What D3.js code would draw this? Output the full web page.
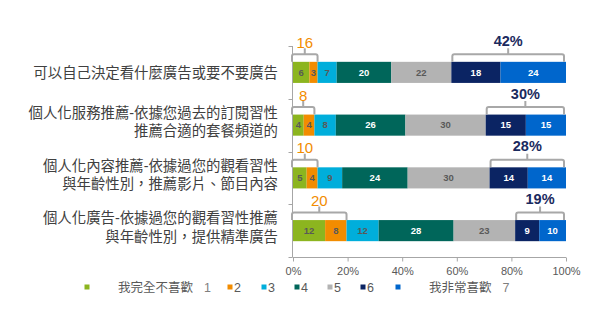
<!DOCTYPE html>
<html>
<head>
<meta charset="utf-8">
<script src="https://cdn.jsdelivr.net/npm/d3@7"></script>
<style>
  html, body { margin: 0; padding: 0; background: #fff; }
  svg { display: block; }
</style>
</head>
<body>
<svg id="chart" width="600" height="323"></svg>
<script>
// Survey items (rows, top to bottom); "\n" splits a label into lines
const categories = [
  "可以自己決定看什麼廣告或要不要廣告",
  "個人化服務推薦-依據您過去的訂閱習性\n推薦合適的套餐頻道的",
  "個人化內容推薦-依據過您的觀看習性\n與年齡性別，推薦影片、節目內容",
  "個人化廣告-依據過您的觀看習性推薦\n與年齡性別，提供精準廣告"
];

// Rating levels 1..7 and the share of answers per row
const levels = ["1", "2", "3", "4", "5", "6", "7"];
const level1 = [6, 4, 5, 12];
const level2 = [3, 4, 4, 8];
const level3 = [7, 8, 9, 12];
const level4 = [20, 26, 24, 28];
const level5 = [22, 30, 30, 23];
const level6 = [18, 15, 14, 9];
const level7 = [24, 15, 14, 10];

// Bracket call-outs: low end (1+2) and top end (6+7)
const lowLabels = ["16", "8", "10", "20"];
const highLabels = ["42%", "30%", "28%", "19%"];

// Legend names
const legendNames = ["我完全不喜歡", "", "", "", "", "", "我非常喜歡"];

const colors = ["#8cb51f", "#f28c00", "#00aedb", "#00665a", "#b3b3b3", "#0b2463", "#0066cc"];
const darkText = [true, true, true, false, true, false, false];

const seriesValues = [level1, level2, level3, level4, level5, level6, level7];
const rows = categories.map((c, i) => {
  const r = { cat: c };
  levels.forEach((l, k) => { r[l] = seriesValues[k][i]; });
  return r;
});

const svg = d3.select("#chart");
const x = d3.scaleLinear().domain([0, 1]).range([293, 566]);
const y = d3.scaleBand().domain(categories).range([46, 257]).paddingInner(0.6).paddingOuter(0.3);

// Stack rows as fractions of their own total, so every bar fills 0–100%
const stack = d3.stack().keys(levels).offset(d3.stackOffsetExpand);
const layers = stack(rows);

const g = svg.append("g");
layers.forEach((layer, k) => {
  const lg = g.append("g");
  lg.selectAll("rect").data(layer).join("rect")
    .attr("x", d => x(d[0]))
    .attr("y", d => y(d.data.cat))
    .attr("width", d => x(d[1]) - x(d[0]))
    .attr("height", y.bandwidth())
    .attr("fill", colors[k]);
  lg.selectAll("text").data(layer).join("text")
    .attr("x", d => (x(d[0]) + x(d[1])) / 2)
    .attr("y", d => y(d.data.cat) + y.bandwidth() / 2 + 3.3)
    .attr("text-anchor", "middle")
    .attr("font-family", "Liberation Sans, Arial, sans-serif")
    .attr("font-size", "9.5px")
    .attr("font-weight", "bold")
    .attr("fill", darkText[k] ? "#595959" : "#ffffff")
    .text(d => d.data[levels[k]]);
});

// Brackets over level 1–2 and level 6–7
function bracket(x0, x1, top) {
  const hy = top - 7.5, r = 2;
  const xm = (x0 + x1) / 2;
  return `M${x0},${top} L${x0},${hy + r} Q${x0},${hy} ${x0 + r},${hy} L${x1 - r},${hy} Q${x1},${hy} ${x1},${hy + r} L${x1},${top}` +
         ` M${xm},${hy} L${xm},${hy - 6}`;
}
rows.forEach((r, i) => {
  const top = y(r.cat);
  const lowEnd = layers[1][i][1];
  const highStart = layers[5][i][0];
  const lx0 = x(0) - 1, lx1 = x(lowEnd);
  const hx0 = x(highStart) + 1, hx1 = x(1) - 2;
  g.append("path").attr("d", bracket(lx0, lx1, top))
    .attr("fill", "none").attr("stroke", "#a8a8a8").attr("stroke-width", 2);
  g.append("path").attr("d", bracket(hx0, hx1, top))
    .attr("fill", "none").attr("stroke", "#a8a8a8").attr("stroke-width", 2);
  g.append("text")
    .attr("x", (lx0 + lx1) / 2).attr("y", top - 14)
    .attr("text-anchor", "middle")
    .attr("font-family", "Liberation Sans, Arial, sans-serif")
    .attr("font-size", "15px")
    .attr("fill", "#f28c00")
    .text(lowLabels[i]);
  g.append("text")
    .attr("x", (hx0 + hx1) / 2).attr("y", top - 16)
    .attr("text-anchor", "middle")
    .attr("font-family", "Liberation Sans, Arial, sans-serif")
    .attr("font-size", "14.5px")
    .attr("font-weight", "bold")
    .attr("fill", "#1a2a5e")
    .text(highLabels[i]);
});

// Left axis line with ticks between rows
const axisColor = "#a6a6a6";
const [yTop, yBot] = y.range();
svg.append("line").attr("x1", 292.5).attr("x2", 292.5).attr("y1", yTop).attr("y2", yBot)
  .attr("stroke", axisColor).attr("stroke-width", 1);
const step = (yBot - yTop) / categories.length;
d3.range(categories.length + 1).forEach(k => {
  const yy = Math.round(yTop + k * step) + 0.5;
  svg.append("line").attr("x1", 288.5).attr("x2", 292.5).attr("y1", yy).attr("y2", yy)
    .attr("stroke", axisColor).attr("stroke-width", 1);
});

// Bottom percentage axis
const xAxis = d3.axisBottom(x).tickValues(d3.range(0, 1.01, 0.2))
  .tickFormat(d3.format(".0%")).tickSize(4).tickSizeOuter(0);
const ax = svg.append("g").attr("transform", `translate(0,${yBot + 0.5})`).call(xAxis);
ax.select(".domain").attr("stroke", axisColor).attr("d", `M292.5,0H${x(1)}`);
ax.selectAll(".tick line").attr("stroke", axisColor);
ax.selectAll(".tick text")
  .attr("font-family", "Liberation Sans, Arial, sans-serif")
  .attr("font-size", "11px")
  .attr("fill", "#595959")
  .attr("dy", "0.95em");

// Row labels, right-aligned, one text element per line
rows.forEach(r => {
  const lines = r.cat.split("\n");
  const lh = 18.5;
  const cy = y(r.cat) + y.bandwidth() / 2 + (lines.length > 1 ? -3 : 1);
  lines.forEach((ln, j) => {
    svg.append("text")
      .attr("text-anchor", "end")
      .attr("font-family", "Liberation Sans, Noto Sans CJK TC, sans-serif")
      .attr("font-size", "14.4px")
      .attr("fill", "#404040")
      .attr("x", 278)
      .attr("y", cy + (j - (lines.length - 1) / 2) * lh + 5)
      .text(ln);
  });
});

// Legend
const legendX = [87, 230, 264, 297, 330, 363, 398];
const legendY = 287;
levels.forEach((l, k) => {
  const lx = legendX[k];
  svg.append("rect").attr("x", lx - 2.5).attr("y", legendY - 2.5)
    .attr("width", 5).attr("height", 5).attr("fill", colors[k]);
  const t = svg.append("text")
    .attr("y", legendY + 4.5)
    .attr("font-family", "Liberation Sans, Noto Sans CJK TC, sans-serif")
    .attr("font-size", "12.5px")
    .attr("fill", "#595959");
  if (legendNames[k]) {
    t.attr("x", lx + 31);
    t.append("tspan").text(legendNames[k]);
    t.append("tspan").attr("dx", 11).attr("fill", "#7f7f7f").text(l);
  } else {
    t.attr("x", lx + 4).text(l);
  }
});
</script>
</body>
</html>
